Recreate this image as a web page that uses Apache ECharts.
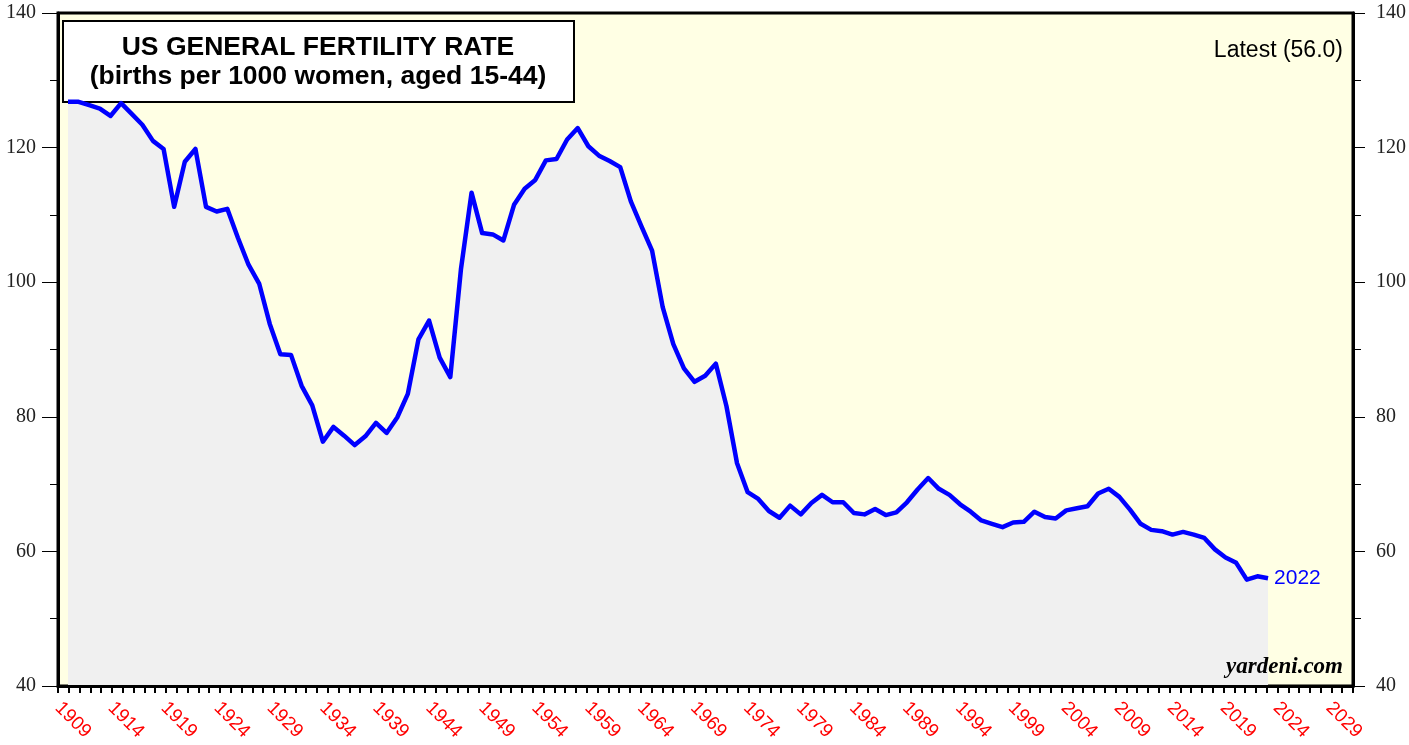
<!DOCTYPE html>
<html>
<head>
<meta charset="utf-8">
<title>US General Fertility Rate</title>
<script src="https://cdn.jsdelivr.net/npm/echarts@6/dist/echarts.min.js"></script>
<style>
    html, body { margin: 0; padding: 0; background: #fff; }
    #chart { width: 1409px; height: 745px; }
</style>
</head>
<body>
<div id="chart"></div>
<script>
// births per 1000 women aged 15-44, one value per year from 1909
var startYear = 1909;
var fertility = [
    126.8, 126.8, 126.3, 125.8, 124.7, 126.6, 125.0, 123.4, 121.0, 119.8,   // 1909-1918
    111.2, 117.9, 119.8, 111.2, 110.5, 110.9, 106.6, 102.6, 99.8, 93.8,     // 1919-1928
    89.3, 89.2, 84.6, 81.7, 76.3, 78.5, 77.2, 75.8, 77.1, 79.1,             // 1929-1938
    77.6, 79.9, 83.4, 91.5, 94.3, 88.8, 85.9, 101.9, 113.3, 107.3,          // 1939-1948
    107.1, 106.2, 111.5, 113.9, 115.2, 118.1, 118.3, 121.2, 122.9, 120.2,   // 1949-1958
    118.8, 118.0, 117.1, 112.0, 108.3, 104.7, 96.3, 90.8, 87.2, 85.2,       // 1959-1968
    86.1, 87.9, 81.6, 73.1, 68.8, 67.8, 66.0, 65.0, 66.8, 65.5,             // 1969-1978
    67.2, 68.4, 67.3, 67.3, 65.7, 65.5, 66.3, 65.4, 65.8, 67.3,             // 1979-1988
    69.2, 70.9, 69.3, 68.4, 67.0, 65.9, 64.6, 64.1, 63.6, 64.3,             // 1989-1998
    64.4, 65.9, 65.1, 64.9, 66.1, 66.4, 66.7, 68.6, 69.3, 68.1,             // 1999-2008
    66.2, 64.1, 63.2, 63.0, 62.5, 62.9, 62.5, 62.0, 60.3, 59.1,             // 2009-2018
    58.3, 55.8, 56.3, 56.0                                                  // 2019-2022
];
var labelYears = [1909, 1914, 1919, 1924, 1929, 1934, 1939, 1944, 1949, 1954, 1959, 1964, 1969,
    1974, 1979, 1984, 1989, 1994, 1999, 2004, 2009, 2014, 2019, 2024, 2029];

var years = fertility.map(function (v, i) { return startYear + i; });
var seriesData = fertility.map(function (v, i) { return [years[i], v]; });
var lastYear = years[years.length - 1];
var lastValue = fertility[fertility.length - 1];

var sans = '"Liberation Sans", Arial, sans-serif';
var serif = '"Liberation Serif", "Times New Roman", serif';

var chart = echarts.init(document.getElementById('chart'));

var option = {
    animation: false,
    backgroundColor: '#ffffff',
    grid: {
        left: 58,
        right: 55,
        top: 13,
        bottom: 59,
        show: true,
        backgroundColor: '#FFFFE4',
        borderColor: '#000',
        borderWidth: 3
    },
    xAxis: [
        {
            // data axis
            type: 'value',
            min: 1908.06,
            max: 2030,
            position: 'bottom',
            z: 5,
            axisLine: { show: true, lineStyle: { color: '#000', width: 3 } },
            axisTick: { show: false },
            splitLine: { show: false },
            axisLabel: { show: false }
        },
        {
            // yearly tick marks along the bottom
            type: 'value',
            min: 0,
            max: 120,
            interval: 1,
            position: 'bottom',
            offset: 0,
            z: 5,
            axisLine: { show: false },
            axisTick: { show: true, length: 7, lineStyle: { color: '#000', width: 2 } },
            axisLabel: { show: false },
            splitLine: { show: false }
        },
        {
            // year labels (their own spacing, like the original)
            type: 'value',
            min: 1909,
            max: 2031.26,
            position: 'bottom',
            offset: 0,
            z: 5,
            axisLine: { show: false },
            axisTick: { show: false },
            splitLine: { show: false },
            axisLabel: {
                customValues: labelYears,
                formatter: function (v) { return String(v); },
                rotate: -45,
                margin: 19,
                color: '#FF0000',
                fontSize: 19,
                fontFamily: sans
            }
        }
    ],
    yAxis: [
        {
            type: 'value',
            position: 'left',
            min: 40,
            max: 140,
            interval: 20,
            z: 5,
            axisLine: { show: true, lineStyle: { color: '#000', width: 3 } },
            axisTick: { show: true, length: 16, lineStyle: { color: '#000', width: 1 } },
            minorTick: { show: true, splitNumber: 2, length: 8, lineStyle: { color: '#000', width: 1 } },
            splitLine: { show: false },
            axisLabel: { margin: 22, color: '#222', fontSize: 20, fontFamily: serif }
        },
        {
            type: 'value',
            position: 'right',
            min: 40,
            max: 140,
            interval: 20,
            z: 5,
            axisLine: { show: true, lineStyle: { color: '#000', width: 3 } },
            axisTick: { show: true, length: 12, lineStyle: { color: '#000', width: 1 } },
            minorTick: { show: true, splitNumber: 2, length: 8, lineStyle: { color: '#000', width: 1 } },
            splitLine: { show: false },
            axisLabel: { margin: 23, color: '#222', fontSize: 20, fontFamily: serif }
        }
    ],
    series: [
        {
            type: 'line',
            xAxisIndex: 0,
            yAxisIndex: 0,
            data: seriesData,
            symbol: 'none',
            z: 3,
            lineStyle: { color: '#0000FF', width: 4.5, join: 'round' },
            areaStyle: { color: '#F0F0F0', opacity: 1, origin: 'start' },
            endLabel: {
                show: true,
                formatter: function () { return String(lastYear); },
                color: '#0000FF',
                fontSize: 21,
                fontFamily: sans,
                distance: 6
            }
        }
    ],
    graphic: [
        {
            type: 'group',
            left: 62,
            top: 20,
            z: 10,
            children: [
                {
                    type: 'rect',
                    shape: { x: 0, y: 0, width: 511, height: 81 },
                    style: { fill: '#fff', stroke: '#000', lineWidth: 2 }
                },
                {
                    type: 'text',
                    x: 255,
                    y: 41,
                    style: {
                        text: 'US GENERAL FERTILITY RATE\n(births per 1000 women, aged 15-44)',
                        align: 'center',
                        verticalAlign: 'middle',
                        lineHeight: 29,
                        font: 'bold 26.5px ' + sans,
                        fill: '#000'
                    }
                }
            ]
        },
        {
            type: 'text',
            right: 66,
            top: 39,
            z: 10,
            style: {
                text: 'Latest (' + lastValue.toFixed(1) + ')',
                font: '23px ' + sans,
                fill: '#000'
            }
        },
        {
            type: 'text',
            right: 66,
            top: 656,
            z: 10,
            style: {
                text: 'yardeni.com',
                font: 'italic bold 23px ' + serif,
                fill: '#000'
            }
        }
    ]
};

chart.setOption(option);
window.onresize = function () {
    chart.resize();
};
</script>
</body>
</html>
